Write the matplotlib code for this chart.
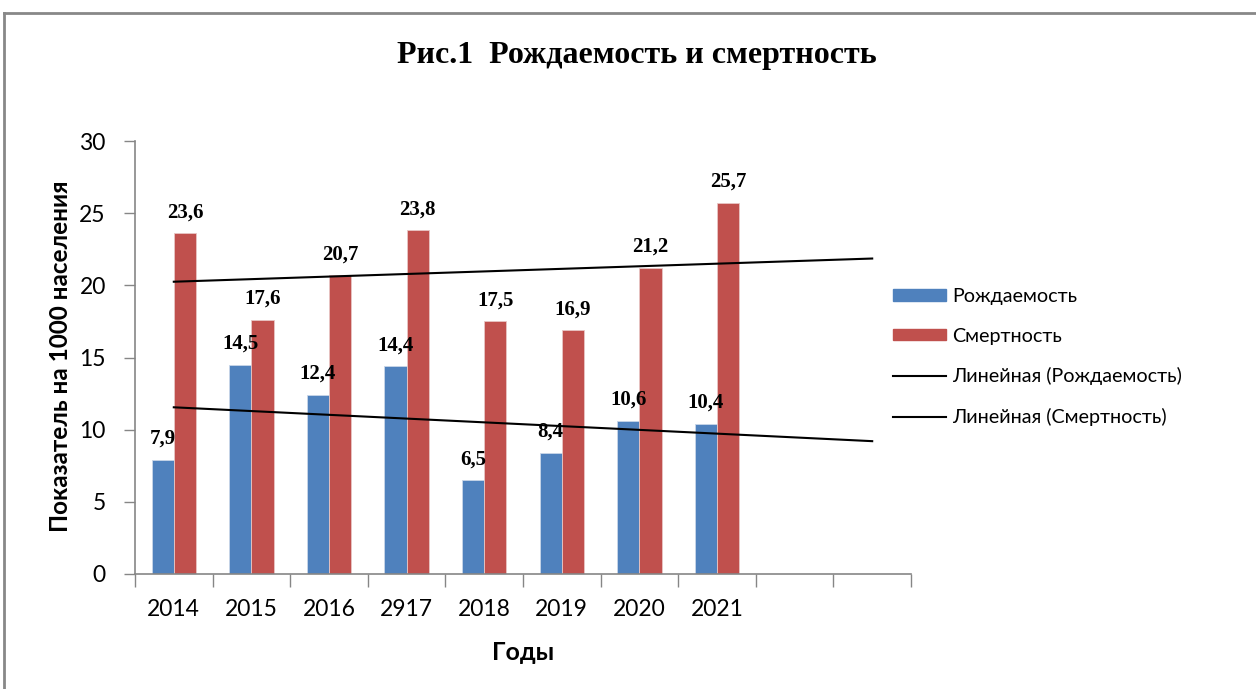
import numpy as np
import matplotlib
matplotlib.use('Agg')
from matplotlib import pyplot as plt
from matplotlib.lines import Line2D
from matplotlib.patches import Patch

# data
years = ['2014', '2015', '2016', '2917', '2018', '2019', '2020', '2021', '', '']
births = [7.9, 14.5, 12.4, 14.4, 6.5, 8.4, 10.6, 10.4]
deaths = [23.6, 17.6, 20.7, 23.8, 17.5, 16.9, 21.2, 25.7]

blue = '#4F81BD'
red = '#C0504D'
axis_grey = '#868686'

plt.rcParams['font.family'] = ['Lato', 'DejaVu Sans']

fig = plt.figure(figsize=(12.56, 6.89), dpi=100)
ax = fig.add_axes([135/1256, 1-574/689, 776/1256, 433/689])

n = len(births)
x = np.arange(n)
w = 1/3.5
ax.bar(x - w/2, births, w, color=blue, edgecolor='#c9d6e8', linewidth=0.6)
ax.bar(x + w/2, deaths, w, color=red, edgecolor='#e8c6c5', linewidth=0.6)

# data labels
lab_font = dict(family='Liberation Serif', weight='bold', size=15)
for xi, v in zip(x - w/2, births):
    ax.annotate(f'{v:.1f}'.replace('.', ','), (xi, v), xytext=(0, 11.5),
                textcoords='offset points', ha='center', va='baseline', **lab_font)
for xi, v in zip(x + w/2, deaths):
    ax.annotate(f'{v:.1f}'.replace('.', ','), (xi, v), xytext=(0, 11.5),
                textcoords='offset points', ha='center', va='baseline', **lab_font)

# linear trends, extended over all 10 categories (as Excel does)
xt = np.array([0, len(years) - 1])
kb = np.polyfit(x, births, 1)
kd = np.polyfit(x, deaths, 1)
ax.plot(xt, np.polyval(kb, xt), color='black', lw=1.5)
ax.plot(xt, np.polyval(kd, xt), color='black', lw=1.5)

ax.set_xlim(-0.5, len(years) - 0.5)
ax.set_ylim(0, 30)
ax.set_yticks(range(0, 31, 5))
ax.set_xticks(np.arange(len(years) + 1) - 0.5)
ax.set_xticklabels([])
ax.set_xticks(np.arange(len(years)), minor=True)
ax.set_xticklabels(years, minor=True)
ax.tick_params(axis='x', which='major', length=9, color=axis_grey, width=1)
ax.tick_params(axis='x', which='minor', length=0, labelsize=16.5, pad=18)
ax.tick_params(axis='y', length=8, color=axis_grey, width=1, labelsize=16.5, pad=13)

for s in ['top', 'right']:
    ax.spines[s].set_visible(False)
for s in ['left', 'bottom']:
    ax.spines[s].set_color(axis_grey)
    ax.spines[s].set_linewidth(1.2)

ax.set_xlabel('Годы', fontsize=18, fontweight='bold', labelpad=15)
fig.text(60/1256, 1-356/689, 'Показатель на 1000 населения', rotation=90,
         ha='center', va='center', fontsize=17.5, fontweight='bold')

fig.text(637/1256, 1-63/689, 'Рис.1  Рождаемость и смертность', ha='center', va='baseline',
         family='Liberation Serif', weight='bold', size=23)

handles = [Patch(color=blue), Patch(color=red),
           Line2D([], [], color='black', lw=1.5), Line2D([], [], color='black', lw=1.5)]
labels = ['Рождаемость', 'Смертность', 'Линейная (Рождаемость)', 'Линейная (Смертность)']
fig.legend(handles, labels, loc='upper left', bbox_to_anchor=(893/1256, 1-288/689),
           frameon=False, fontsize=14.2, handlelength=2.7, handleheight=0.5,
           handletextpad=0.3, labelspacing=1.15, borderpad=0, borderaxespad=0)

# outer chart border (top and left edges visible)
fig.add_artist(Line2D([4/1256, 4/1256], [0, 1-13/689], color='#888888', lw=2))
fig.add_artist(Line2D([4/1256, 1], [1-13/689, 1-13/689], color='#888888', lw=2))

fig.savefig('out.png', dpi=100)
